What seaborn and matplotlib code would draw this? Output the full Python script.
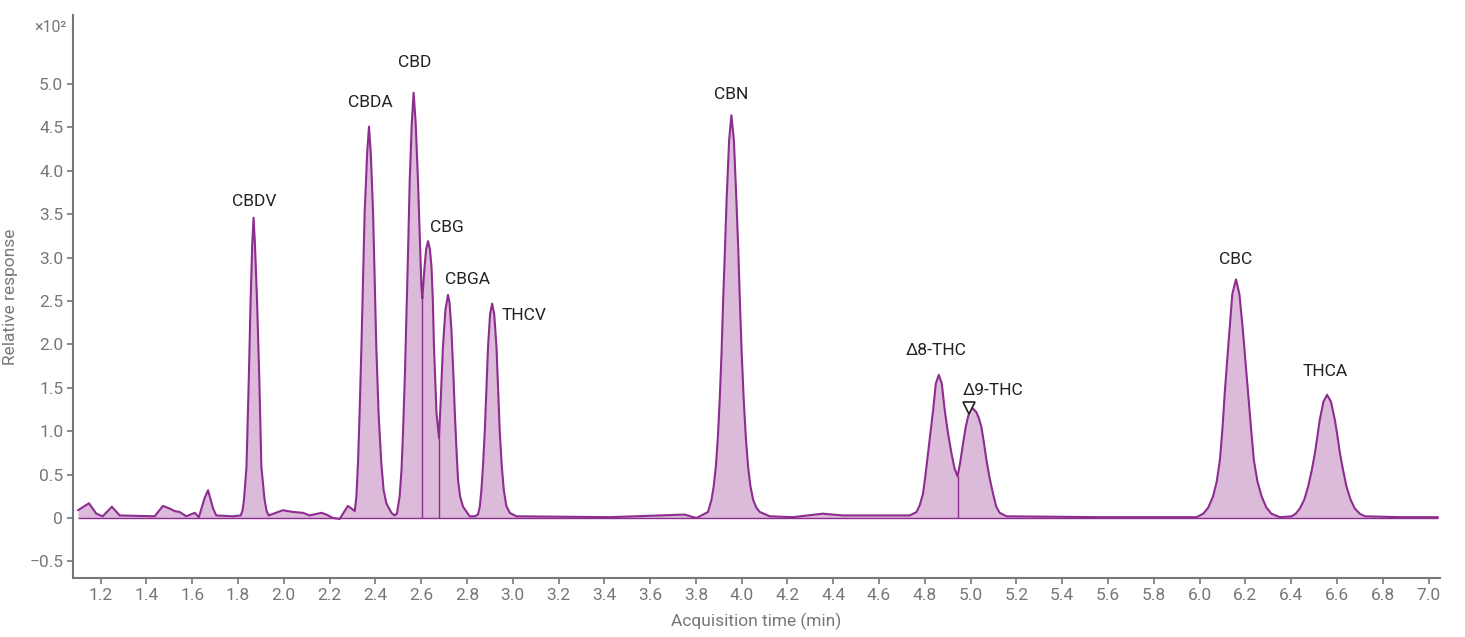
import numpy as np
import pandas as pd
import seaborn as sns
import matplotlib.pyplot as plt
from matplotlib.ticker import FixedLocator, FuncFormatter

# chromatogram trace: (acquisition time in min, response x10^2)
baseline_pts = [
    (1.101, 0.09), (1.149, 0.17), (1.181, 0.05), (1.209, 0.02), (1.249, 0.13),
    (1.283, 0.03), (1.436, 0.02), (1.472, 0.14), (1.501, 0.11), (1.523, 0.08),
    (1.545, 0.07), (1.574, 0.02), (1.611, 0.06), (1.629, 0.01), (1.654, 0.23),
    (1.669, 0.32), (1.691, 0.11), (1.705, 0.03), (1.777, 0.02),
    (1.996, 0.09), (2.040, 0.07), (2.084, 0.06), (2.113, 0.03), (2.164, 0.06),
    (2.186, 0.04), (2.215, 0.00), (2.244, -0.01), (2.280, 0.14),
    (3.016, 0.02), (3.424, 0.01), (3.751, 0.04), (3.802, 0.00),
    (4.123, 0.02), (4.223, 0.01), (4.354, 0.05), (4.442, 0.03), (4.590, 0.03),
    (4.734, 0.03), (5.157, 0.02), (5.564, 0.01), (5.914, 0.01),
    (6.875, 0.01), (7.041, 0.01),
]
cbdv_pts = [
    (1.812, 0.03), (1.820, 0.09), (1.826, 0.21), (1.837, 0.59), (1.847, 1.60),
    (1.855, 2.51), (1.862, 3.15), (1.868, 3.46), (1.874, 3.15), (1.883, 2.51),
    (1.893, 1.60), (1.902, 0.59), (1.916, 0.21), (1.925, 0.08), (1.934, 0.03),
]
cbda_pts = [
    (2.310, 0.08), (2.317, 0.25), (2.324, 0.63), (2.331, 1.20), (2.339, 1.97),
    (2.346, 2.75), (2.353, 3.51), (2.364, 4.20), (2.372, 4.51), (2.380, 4.20),
    (2.390, 3.51), (2.397, 2.75), (2.404, 1.97), (2.414, 1.20), (2.426, 0.63),
    (2.436, 0.32), (2.448, 0.17), (2.470, 0.06), (2.484, 0.03),
]
cbd_cbg_cbga_pts = [
    (2.494, 0.05), (2.506, 0.25), (2.514, 0.55), (2.521, 1.01), (2.529, 1.65),
    (2.536, 2.36), (2.543, 3.10), (2.550, 3.89), (2.559, 4.55), (2.567, 4.90),
    (2.576, 4.55), (2.586, 3.89), (2.594, 3.25), (2.601, 2.67), (2.605, 2.53),
    (2.615, 2.90), (2.622, 3.10), (2.630, 3.19), (2.638, 3.10), (2.645, 2.90),
    (2.651, 2.50), (2.656, 1.97), (2.667, 1.21), (2.678, 0.92), (2.686, 1.40),
    (2.695, 1.97), (2.706, 2.40), (2.717, 2.57), (2.724, 2.48), (2.732, 2.17),
    (2.740, 1.70), (2.747, 1.21), (2.754, 0.80), (2.761, 0.44), (2.770, 0.25),
    (2.783, 0.13), (2.812, 0.02), (2.834, 0.02),
]
thcv_pts = [
    (2.848, 0.04), (2.856, 0.13), (2.863, 0.32), (2.870, 0.60), (2.878, 1.01),
    (2.885, 1.50), (2.892, 1.97), (2.901, 2.35), (2.910, 2.47), (2.919, 2.35),
    (2.929, 1.97), (2.936, 1.50), (2.943, 1.01), (2.952, 0.60), (2.961, 0.32),
    (2.972, 0.14), (2.987, 0.06),
]
cbn_pts = [
    (3.853, 0.07), (3.868, 0.21), (3.878, 0.37), (3.887, 0.59), (3.896, 0.93),
    (3.904, 1.36), (3.912, 1.90), (3.919, 2.51), (3.927, 3.10), (3.934, 3.66),
    (3.945, 4.35), (3.955, 4.64), (3.966, 4.35), (3.977, 3.66), (3.985, 3.10),
    (3.992, 2.51), (4.000, 1.90), (4.009, 1.36), (4.018, 0.93), (4.028, 0.59),
    (4.038, 0.37), (4.050, 0.21), (4.064, 0.12), (4.079, 0.07),
]
thc_pts = [
    (4.764, 0.07), (4.778, 0.15), (4.792, 0.28), (4.803, 0.50), (4.814, 0.75),
    (4.825, 1.00), (4.836, 1.24), (4.848, 1.55), (4.861, 1.65), (4.874, 1.55),
    (4.887, 1.24), (4.901, 0.98), (4.916, 0.75), (4.930, 0.57), (4.943, 0.48),
    (4.955, 0.65), (4.967, 0.86), (4.978, 1.04), (4.989, 1.17), (4.998, 1.24),
    (5.007, 1.27), (5.025, 1.22), (5.036, 1.15), (5.047, 1.05), (5.058, 0.87),
    (5.069, 0.67), (5.083, 0.46), (5.098, 0.28), (5.112, 0.13), (5.127, 0.06),
]
cbc_pts = [
    (5.987, 0.01), (6.016, 0.05), (6.038, 0.12), (6.059, 0.25), (6.075, 0.42),
    (6.089, 0.67), (6.100, 1.03), (6.110, 1.44), (6.121, 1.83), (6.132, 2.20),
    (6.143, 2.58), (6.159, 2.75), (6.174, 2.58), (6.188, 2.20), (6.200, 1.82),
    (6.212, 1.44), (6.225, 1.03), (6.237, 0.67), (6.253, 0.42), (6.271, 0.25),
    (6.292, 0.12), (6.314, 0.05), (6.351, 0.01),
]
thca_pts = [
    (6.402, 0.02), (6.420, 0.05), (6.438, 0.11), (6.457, 0.21), (6.474, 0.36),
    (6.490, 0.55), (6.504, 0.75), (6.515, 0.95), (6.525, 1.13), (6.541, 1.34),
    (6.557, 1.42), (6.574, 1.34), (6.591, 1.13), (6.602, 0.95), (6.613, 0.75),
    (6.627, 0.55), (6.642, 0.36), (6.660, 0.21), (6.678, 0.11), (6.700, 0.05),
    (6.722, 0.02),
]

peak_names = ["CBDV", "CBDA", "CBD", "CBG", "CBGA", "THCV", "CBN",
              "Δ8-THC", "Δ9-THC", "CBC", "THCA"]
peak_times = [1.868, 2.372, 2.567, 2.630, 2.717, 2.910, 3.955, 4.861, 5.007, 6.159, 6.557]
peak_heights = [3.46, 4.51, 4.90, 3.19, 2.57, 2.47, 4.64, 1.65, 1.27, 2.75, 1.42]

# valley drop lines between co-eluting peaks
drop_times = [2.605, 2.678, 4.943]

x_ticks = [round(1.2 + 0.2 * i, 1) for i in range(30)]
y_ticks = [-0.5, 0, 0.5, 1.0, 1.5, 2.0, 2.5, 3.0, 3.5, 4.0, 4.5, 5.0]

all_pts = (baseline_pts + cbdv_pts + cbda_pts + cbd_cbg_cbga_pts + thcv_pts
           + cbn_pts + thc_pts + cbc_pts + thca_pts)
df = pd.DataFrame(all_pts, columns=["time", "response"]).sort_values("time")
df = df.reset_index(drop=True)

sns.set_theme(style="white")
plt.rcParams["font.family"] = ["Roboto", "DejaVu Sans"]

line_color = "#8c2d8f"
fill_color = "#dcbad9"
grey = "#76777a"

fig = plt.figure(figsize=(14.65, 6.37), dpi=100)
ax = fig.add_axes([0.0498, 0.0926, 0.9331, 0.8838])

ax.fill_between(df["time"], df["response"], 0, color=fill_color, linewidth=0)
ax.hlines(0, df["time"].iloc[0], df["time"].iloc[-1], color=line_color, linewidth=1.0)
sns.lineplot(data=df, x="time", y="response", ax=ax, color=line_color,
             linewidth=1.5, sort=False)

drop_tops = np.interp(drop_times, df["time"], df["response"])
ax.vlines(drop_times, 0, drop_tops, color=line_color, linewidth=1.0)

# label offsets in pixels (dx, dy) from each apex
offsets = [(1, 16), (1, 24), (1, 30), (19, 14), (20, 15), (32, -12), (0, 21),
           (-3, 24), (21, 17), (0, 20), (-2, 23)]
for name, t, h, (dx, dy) in zip(peak_names, peak_times, peak_heights, offsets):
    ax.annotate(name, (t, h), xytext=(dx, dy), textcoords="offset pixels",
                ha="center", va="center", fontsize=12.5, color="#222222")

# expected retention marker on d9-THC
ax.plot([peak_times[8] - 0.015], [peak_heights[8]], marker="v", markersize=9,
        markerfacecolor="white", markeredgecolor="#222222", markeredgewidth=1.2,
        linestyle="none")

ax.set_xlim(1.079, 7.05)
ax.set_ylim(-0.691, 5.795)
ax.xaxis.set_major_locator(FixedLocator(x_ticks))
ax.yaxis.set_major_locator(FixedLocator(y_ticks))
ax.xaxis.set_major_formatter(FuncFormatter(lambda v, p: f"{v:.1f}"))
ax.yaxis.set_major_formatter(FuncFormatter(
    lambda v, p: "0" if abs(v) < 1e-9 else f"{v:.1f}".replace("-", "\u2212")))

for side in ["top", "right"]:
    ax.spines[side].set_visible(False)
for side in ["left", "bottom"]:
    ax.spines[side].set_color(grey)
    ax.spines[side].set_linewidth(1.5)

ax.tick_params(axis="both", which="major", direction="out", length=4, width=1.2,
               color=grey, labelcolor=grey, labelsize=12.5, pad=3,
               bottom=True, left=True)

ax.set_xlabel("Acquisition time (min)", fontsize=12.5, color=grey, labelpad=7)
ax.set_ylabel("Relative response", fontsize=12.5, color=grey, labelpad=8)
ax.text(-0.005, 0.978, "×10²", transform=ax.transAxes, ha="right", va="center",
        fontsize=11.5, color=grey)

fig.savefig("out.png", dpi=100)
